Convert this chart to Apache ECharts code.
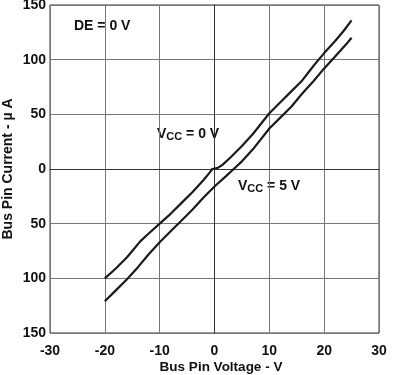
<!DOCTYPE html>
<html><head><meta charset="utf-8">
<script src="https://cdn.jsdelivr.net/npm/echarts@6/dist/echarts.min.js"></script>
<style>html,body{margin:0;padding:0;background:#fff}#c{width:399px;height:375px}</style>
</head><body><div id="c"></div>
<script>
const xTicks = [-30, -20, -10, 0, 10, 20, 30];
const yTicks = [-150, -100, -50, 0, 50, 100, 150];
const vcc0X = [-20, -18, -16, -15, -13.5, -12, -10, -8, -6, -4, -2, -1, -0.4, 0.6, 1.5, 3, 5, 7, 10, 12, 14, 16, 18, 19, 20, 22, 23.5, 25];
const vcc0Y = [-100, -91, -81, -75, -66, -59, -50, -41, -31, -21, -10, -4, 0, 1, 4, 11, 21, 32, 51, 61, 71, 81, 94, 100, 106, 117, 126, 136];
const vcc5X = [-20, -18, -16, -14, -12, -10, -8, -6.6, -4, -2, 0, 2, 3.5, 5, 7, 10, 12, 14, 16, 18, 20, 22, 24, 25];
const vcc5Y = [-121, -111, -101, -90, -78, -67, -57, -50, -37, -26, -16, -7, 0, 7, 18, 37, 47, 57, 69, 80, 92, 103, 114, 120];

const pair = (xs, ys) => xs.map((x, i) => [x, ys[i]]);
const chart = echarts.init(document.getElementById('c'));
const font = 'Liberation Sans, Arial, sans-serif';
const lbl = (parts) => ({
  type: 'text',
  style: {
    rich: {
      m: {fontFamily: font, fontWeight: 'bold', fontSize: 14, fill: '#111'},
      s: {fontFamily: font, fontWeight: 'bold', fontSize: 11, fill: '#111', padding: [6, 0, 0, 0]}
    },
    text: parts
  }
});
chart.setOption({
  animation: false,
  grid: {left: 50, right: 20, top: 5, bottom: 42, containLabel: false, outerBoundsMode: 'none',
    show: true, borderColor: '#333', borderWidth: 1},
  xAxis: {
    type: 'value', min: -30, max: 30, interval: 10,
    name: 'Bus Pin Voltage - V', nameLocation: 'middle', nameGap: 27, nameMoveOverlap: false,
    nameTextStyle: {fontFamily: font, fontWeight: 'bold', fontSize: 13.5, color: '#111', padding: [0, 0, 0, 13]},
    axisLine: {lineStyle: {color: '#333'}}, axisTick: {show: false},
    axisLabel: {fontFamily: font, fontWeight: 'bold', fontSize: 14, color: '#111', margin: 11},
    splitLine: {lineStyle: {color: '#777', width: 1}}
  },
  yAxis: {
    type: 'value', min: -150, max: 150, interval: 50,
    name: 'Bus Pin Current - µ A', nameLocation: 'middle', nameGap: 35, nameMoveOverlap: false,
    nameTextStyle: {fontFamily: font, fontWeight: 'bold', fontSize: 14, color: '#111'},
    axisLine: {lineStyle: {color: '#333'}}, axisTick: {show: false},
    axisLabel: {fontFamily: font, fontWeight: 'bold', fontSize: 14, color: '#111', margin: 4,
      formatter: v => String(Math.abs(v))},
    splitLine: {lineStyle: {color: '#777', width: 1}}
  },
  series: [
    {type: 'line', data: pair(vcc0X, vcc0Y), showSymbol: false, lineStyle: {color: '#1a1a1a', width: 2.2}},
    {type: 'line', data: pair(vcc5X, vcc5Y), showSymbol: false, lineStyle: {color: '#1a1a1a', width: 2.2}}
  ],
  graphic: [
    Object.assign(lbl('{m|DE = 0 V}'), {left: 74, top: 19}),
    Object.assign(lbl('{m|V}{s|CC}{m| = 0 V}'), {left: 157, top: 127}),
    Object.assign(lbl('{m|V}{s|CC}{m| = 5 V}'), {left: 238, top: 179})
  ]
});
</script></body></html>
